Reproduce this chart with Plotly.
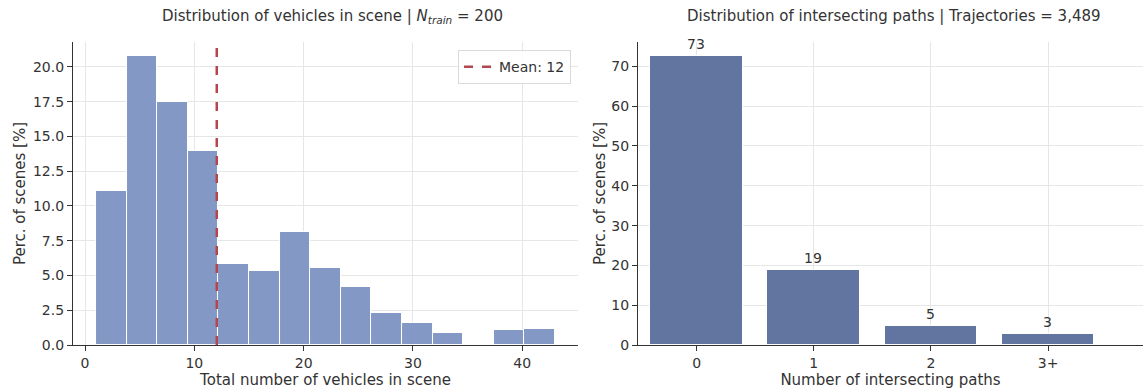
import plotly.graph_objects as go

# ---- data ----
bin_edges = [1.0, 3.8, 6.6, 9.4, 12.2, 15.0, 17.8, 20.6, 23.4, 26.2, 29.0, 31.8, 34.6, 37.4, 40.2, 43.0]
vehicle_pct = [11.05, 20.75, 17.5, 13.95, 5.8, 5.3, 8.1, 5.55, 4.2, 2.3, 1.6, 0.9, 0.0, 1.05, 1.15]
mean_vehicles = 12.05
mean_label = "Mean: 12"

path_categories = ["0", "1", "2", "3+"]
path_pct = [72.5, 18.9, 4.9, 2.7]
path_labels = ["73", "19", "5", "3"]

title_left = "Distribution of vehicles in scene | <i>N</i><sub><i>train</i></sub> = 200"
title_right = "Distribution of intersecting paths | Trajectories = 3,489"

# ---- derived ----
centers = [(a + b) / 2 for a, b in zip(bin_edges[:-1], bin_edges[1:])]
widths = [b - a for a, b in zip(bin_edges[:-1], bin_edges[1:])]
ymax_left = max(vehicle_pct) * 1.05
ymax_right = max(path_pct) * 1.05
xpad = (bin_edges[-1] - bin_edges[0]) * 0.05

FONT = "DejaVu Sans, sans-serif"
TXT = "#333333"
GRID = "#e6e6e6"
TICK = 14
LAB = 15

fig = go.Figure()

fig.add_trace(go.Bar(
    x=centers, y=vehicle_pct, width=widths,
    marker=dict(color="#8498c5", line=dict(color="white", width=1)),
    xaxis="x", yaxis="y", showlegend=False,
))
fig.add_trace(go.Scatter(
    x=[mean_vehicles, mean_vehicles], y=[0, ymax_left], mode="lines",
    line=dict(color="#b4474c", width=2.5, dash="dash"),
    name=mean_label, xaxis="x", yaxis="y", showlegend=True,
))
fig.add_trace(go.Bar(
    x=path_categories, y=path_pct, width=0.79,
    marker=dict(color="#6175a0", line=dict(color="white", width=1)),
    text=path_labels, textposition="outside", cliponaxis=False,
    textfont=dict(family=FONT, size=14, color=TXT),
    xaxis="x2", yaxis="y2", showlegend=False,
))

axis_common = dict(
    showgrid=True, gridcolor=GRID, gridwidth=1,
    showline=True, linecolor=TXT, linewidth=1.3,
    ticks="outside", ticklen=5, tickcolor=TXT, tickwidth=1.2,
    tickfont=dict(family=FONT, size=TICK, color=TXT),
    zeroline=False, mirror=False, automargin=False,
)

fig.update_layout(
    width=1143, height=391,
    margin=dict(l=0, r=0, t=0, b=0),
    paper_bgcolor="white", plot_bgcolor="white",
    font=dict(family=FONT, size=13, color=TXT),
    bargap=0,
    xaxis=dict(domain=[0.0639, 0.5057], anchor="y",
               range=[bin_edges[0] - xpad, bin_edges[-1] + xpad],
               tickvals=[0, 10, 20, 30, 40],
               title=dict(text="Total number of vehicles in scene", standoff=2,
                          font=dict(family=FONT, size=LAB, color=TXT)),
               **axis_common),
    yaxis=dict(domain=[0.1176, 0.8926], anchor="x",
               range=[0, ymax_left], dtick=2.5, tick0=0, tickformat=".1f",
               title=dict(text="Perc. of scenes [%]", standoff=3,
                          font=dict(family=FONT, size=LAB, color=TXT)),
               **axis_common),
    xaxis2=dict(domain=[0.5582, 1.0], anchor="y2",
                range=[-0.5, 3.81], type="category",
                title=dict(text="Number of intersecting paths", standoff=2,
                           font=dict(family=FONT, size=LAB, color=TXT)),
                **axis_common),
    yaxis2=dict(domain=[0.1176, 0.8926], anchor="x2",
                range=[0, ymax_right], dtick=10, tick0=0,
                title=dict(text="Perc. of scenes [%]", standoff=1,
                           font=dict(family=FONT, size=LAB, color=TXT)),
                **axis_common),
    legend=dict(x=0.4996, y=0.872, xanchor="right", yanchor="top",
                bgcolor="rgba(255,255,255,0.85)", bordercolor="#d9d9d9", borderwidth=1,
                font=dict(family=FONT, size=14, color=TXT)),
    annotations=[
        dict(text=title_left, x=0.2905, y=1 - 16 / 391, xref="paper", yref="paper",
             xanchor="center", yanchor="middle", showarrow=False,
             font=dict(family=FONT, size=15, color=TXT)),
        dict(text=title_right, x=0.7825, y=1 - 16 / 391, xref="paper", yref="paper",
             xanchor="center", yanchor="middle", showarrow=False,
             font=dict(family=FONT, size=15, color=TXT)),
    ],
)

fig.write_html("out.html", config={"displayModeBar": False},
               post_script="document.body.style.margin='0';")
